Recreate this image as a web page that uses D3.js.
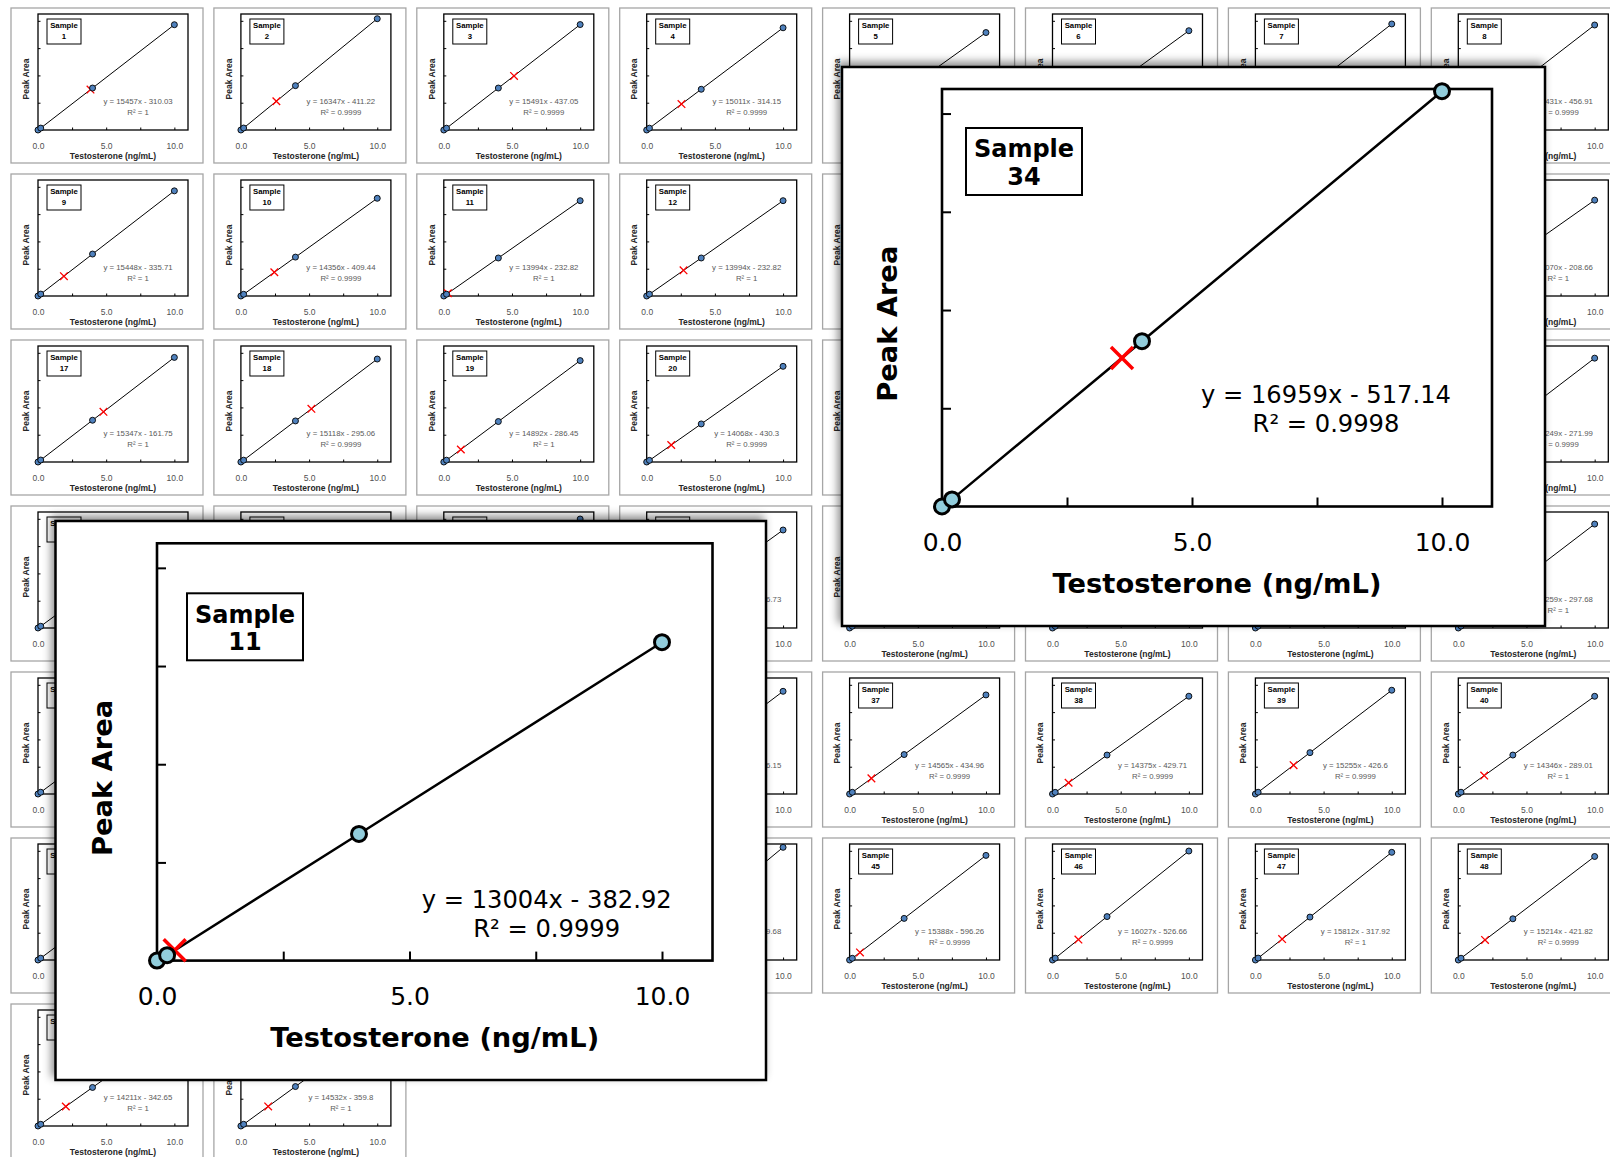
<!DOCTYPE html>
<html><head><meta charset="utf-8">
<script src="https://cdn.jsdelivr.net/npm/d3@7/dist/d3.min.js"></script>
<style>body{margin:0;background:#fff}svg{display:block}</style>
</head><body>
<svg id="c" width="1610" height="1157"></svg>
<script>
// ---------------- DATA ----------------
const concentrations = [0, 0.2, 4, 10];
const xTickValues = [0, 2.5, 5, 7.5, 10];
const xLabelValues = [0, 5, 10];
const yTickValues = [40000, 80000, 120000, 160000];
const xDomain = [0, 11];
const yDomain = [0, 170000];
const xTitle = "Testosterone (ng/mL)";
const yTitle = "Peak Area";

const sampleIds = [1,2,3,4,5,6,7,8,9,10,11,12,13,14,15,16,17,18,19,20,21,22,23,24,25,
  26,27,28,29,30,31,32,33,34,35,36,37,38,39,40,41,42,43,44,45,46,47,48,49,50];
const areaAt0 = [0,0,0,0,0,0,0,0,0,0,0,0,0,0,0,0,0,0,0,0,0,0,0,0,0,
  0,0,0,0,0,0,0,0,0,0,0,0,0,0,0,0,0,0,0,0,0,0,0,0,0];
const areaAt02 = [2800,2900,2700,2700,2600,2600,2800,2600, 2800,2500,2600,2600,2700,2600,2700,2600,
  2900,2700,2700,2400,2700,2800,2600,2800, 2600,2600,2800,2500,2700,2600,2700,2800,
  2600,2900,2700,2700,2500,2400,2600,2600, 2700,2700,2600,2900,2500,2700,2800,2600, 2500,2500];
const areaAt4 = [61500,65000,61500,59700,56900,58000,62000,61300, 61500,57000,55700,55700,60200,59100,60900,56100,
  61200,60200,59300,55800,59500,60600,58800,60700, 58200,59900,63600,57200,60300,58500,61100,60700,
  58900,67300,60300,60000,57800,57100,60600,57100, 59400,60800,58300,65800,61000,63600,62900,60400, 56500,57800];
const areaAt10 = [154300,163100,154500,149800,142800,145500,155400,153900, 154100,143200,139700,139700,150900,148300,152900,140500,
  153300,150900,148600,140200,149200,151800,147500,152200, 145900,150200,159700,143600,151100,146900,153400,152300,
  147800,169100,151300,150500,145200,143300,152100,143200, 149000,152500,146300,165100,153300,159700,157800,151700, 141800,145000];
const spikeConc = [3.85,2.6,5.15,2.55,2.1,1.8,2.2,2.0, 1.9,2.45,0.3,2.7,2.0,2.3,1.7,2.1,
  4.8,5.17,1.25,1.8,2.0,2.4,1.9,2.2, 2.0,2.1,2.0,2.0,2.0,1.8,2.2,2.0,
  2.0,3.6,2.1,2.0,1.6,1.18,2.8,1.9, 1.9,2.0,2.2,2.0,0.76,1.9,1.96,1.96, 2.04,2.0];
const spikeArea = [59200,42100,79300,38000,29800,25900,34000,30400, 29000,34800,4000,37600,29900,33800,25700,29300,
  73500,77900,18300,24900,29600,36200,27700,33300, 28900,31300,31600,28400,30000,26200,33500,30200,
  29300,60500,31500,29800,22900,16500,42300,27000, 28100,30200,31900,32700,11100,29900,30700,29400, 28600,28700];
const slopes = [15457,16347,15491,15011,14310,14580,15570,15431, 15448,14356,13994,13994,15120,14870,15330,14070,
  15347,15118,14892,14068,14950,15210,14780,15249, 14620,15060,16010,14390,15140,14720,15380,15259,
  14810,16959,15170,15080,14565,14375,15255,14346, 14930,15290,14660,16550,15388,16027,15812,15214, 14211,14532];
const intercepts = [-310.03,-411.22,-437.05,-314.15,-301.45,-325.4,-298.2,-456.91,
  -335.71,-409.44,-232.82,-232.82,-310.5,-356.2,-402.1,-208.66,
  -161.75,-295.06,-286.45,-430.3,-330.8,-287.3,-341.6,-271.99,
  -318.4,-365.2,-412.5,-336.73,-298.6,-344.9,-376.3,-297.68,
  -322.1,-517.14,-359.4,-346.15,-434.96,-429.71,-426.6,-289.01,
  -305.7,-384.2,-329.5,-409.68,-596.26,-526.66,-317.92,-421.82, -342.65,-359.8];
const rSquared = [1,0.9999,0.9999,0.9999,0.9999,1,1,0.9999, 1,0.9999,1,1,1,0.9999,0.9999,1,
  1,0.9999,1,0.9999,0.9999,1,0.9999,0.9999, 1,0.9999,0.9999,0.9999,1,0.9999,0.9999,1,
  1,0.9998,0.9999,0.9999,0.9999,0.9999,0.9999,1, 1,0.9999,0.9999,0.9999,0.9999,0.9999,1,0.9999, 1,1];

// enlarged panels
const zoomSamples = [11, 34];
const zoomAreaAt0 = [0, 0];
const zoomAreaAt02 = [2200, 2900];
const zoomAreaAt4 = [51600, 67300];
const zoomAreaAt10 = [129700, 169100];
const zoomSpikeConc = [0.35, 3.6];
const zoomSpikeArea = [4200, 60500];
const zoomSlopes = [13004, 16959];
const zoomIntercepts = [-382.92, -517.14];
const zoomR2 = [0.9999, 0.9998];

// ---------------- LAYOUT / STYLE ----------------
const svg = d3.select('#c');
const defs = svg.append('defs');
const f = defs.append('filter').attr('id','sh').attr('x','-10%').attr('y','-10%').attr('width','120%').attr('height','120%');
f.append('feDropShadow').attr('dx',-3).attr('dy',-4).attr('stdDeviation',4)
  .attr('flood-color','#000').attr('flood-opacity',0.45);

const SMALL = {
  font: "'Liberation Sans', Arial, sans-serif",
  outerStroke: '#a6a6a6', outerSW: 1.3, shadow: false,
  plotSW: 1.3, tickLen: 2.5, tickSW: 1,
  tickFont: 8.5, tickColor: '#505050', tickWeight: 'normal', tickBase: 19,
  titleFont: 8.5, titleColor: '#262626', titleBase: 29,
  yTitleX: -9.3, yTitleDy: 7,
  boxW: 34, boxH: 25, boxSW: 1, boxFont: 7.8, boxLine1: 8.9, boxLine2: 20.2,
  eqFont: 7.8, eqColor: '#595959', eqGap: 11,
  r: 3, markerFill: '#4f81bd', markerSW: 0.9,
  xHalf: 3.8, xSW: 1.3, lineSW: 1
};
const BIG = {
  font: "'DejaVu Sans', Verdana, sans-serif",
  outerStroke: '#000', outerSW: 2.5, shadow: true,
  plotSW: 2.6, tickLen: 9, tickSW: 2,
  tickFont: 25, tickColor: '#000', tickWeight: 'normal', tickBase: 44.5,
  titleFont: 27.3, titleColor: '#000', titleBase: 86,
  yTitleX: -45, yTitleDy: 26,
  boxW: 116, boxH: 67, boxSW: 2, boxFont: 24, boxLine1: 29.3, boxLine2: 56.8,
  eqFont: 24.2, eqColor: '#000', eqGap: 28.5,
  r: 7.5, markerFill: '#92cddc', markerSW: 3,
  xHalf: 11, xSW: 3.5, lineSW: 2.5
};

const colX0 = 11, colStep = 202.9, rowY0 = 8, rowStep = 166;
function smallLayout(i) {
  const col = i % 8, row = Math.floor(i / 8);
  return {x: colX0 + col*colStep, y: rowY0 + row*rowStep, w: 192, h: 155,
    plotL: 27, plotT: 6, plotW: 150, plotH: 116, boxX: 9, boxY: 5, eqX: 100, eqY: 89.5};
}
const zoomLayout = [
  {x: 55.5, y: 521, w: 710.5, h: 559, plotL: 101.5, plotT: 22.3, plotW: 555.5, plotH: 417.3,
   boxX: 30, boxY: 50, eqX: 389.7, eqY: 364.7},
  {x: 842, y: 67, w: 703, h: 559, plotL: 100, plotT: 22, plotW: 550, plotH: 417.5,
   boxX: 24, boxY: 39, eqX: 384, eqY: 314}
];

function drawPanel(d, st, L) {
  const g = svg.append('g').attr('transform', `translate(${L.x},${L.y})`);
  g.append('rect').attr('width', L.w).attr('height', L.h).attr('fill', '#fff')
    .attr('stroke', st.outerStroke).attr('stroke-width', st.outerSW)
    .attr('filter', st.shadow ? 'url(#sh)' : null);

  const x = d3.scaleLinear().domain(xDomain).range([0, L.plotW]);
  const y = d3.scaleLinear().domain(yDomain).range([L.plotH, 0]);
  const p = g.append('g').attr('transform', `translate(${L.plotL},${L.plotT})`);

  const xt = p.append('g').attr('transform', `translate(0,${L.plotH})`)
    .call(d3.axisBottom(x).tickValues(xTickValues).tickSize(-st.tickLen).tickFormat(''));
  const yt = p.append('g')
    .call(d3.axisLeft(y).tickValues(yTickValues).tickSize(-st.tickLen).tickFormat(''));
  [xt, yt].forEach(a => {
    a.select('.domain').remove();
    a.selectAll('text').remove();
    a.selectAll('line').attr('stroke', '#000').attr('stroke-width', st.tickSW);
  });
  const xl = p.append('g').attr('transform', `translate(0,${L.plotH})`)
    .call(d3.axisBottom(x).tickValues(xLabelValues).tickSize(0).tickFormat(d3.format('.1f')));
  xl.select('.domain').remove();
  xl.selectAll('text').attr('y', st.tickBase).attr('dy', null)
    .attr('font-family', st.font).attr('font-size', st.tickFont)
    .attr('fill', st.tickColor).attr('font-weight', st.tickWeight);

  p.append('rect').attr('width', L.plotW).attr('height', L.plotH)
    .attr('fill', 'none').attr('stroke', '#000').attr('stroke-width', st.plotSW);

  g.append('text').attr('x', L.plotL + L.plotW/2).attr('y', L.plotT + L.plotH + st.titleBase)
    .attr('text-anchor', 'middle').attr('font-family', st.font).attr('font-weight', 'bold')
    .attr('font-size', st.titleFont).attr('fill', st.titleColor).text(xTitle);
  g.append('text')
    .attr('transform', `translate(${L.plotL + st.yTitleX},${L.plotT + L.plotH/2 + st.yTitleDy}) rotate(-90)`)
    .attr('text-anchor', 'middle').attr('font-family', st.font).attr('font-weight', 'bold')
    .attr('font-size', st.titleFont).attr('fill', st.titleColor).text(yTitle);

  const bx = L.plotL + L.boxX, by = L.plotT + L.boxY;
  g.append('rect').attr('x', bx).attr('y', by).attr('width', st.boxW).attr('height', st.boxH)
    .attr('fill', '#fff').attr('stroke', '#000').attr('stroke-width', st.boxSW);
  const bt = g.append('text').attr('text-anchor', 'middle').attr('font-family', st.font)
    .attr('font-weight', 'bold').attr('font-size', st.boxFont).attr('fill', '#000');
  bt.append('tspan').attr('x', bx + st.boxW/2).attr('y', by + st.boxLine1).text('Sample');
  bt.append('tspan').attr('x', bx + st.boxW/2).attr('y', by + st.boxLine2).text(d.id);

  const eq = g.append('text').attr('text-anchor', 'middle').attr('font-family', st.font)
    .attr('font-size', st.eqFont).attr('fill', st.eqColor);
  eq.append('tspan').attr('x', L.plotL + L.eqX).attr('y', L.plotT + L.eqY)
    .text(`y = ${d.slope}x - ${Math.abs(d.intercept)}`);
  eq.append('tspan').attr('x', L.plotL + L.eqX).attr('y', L.plotT + L.eqY + st.eqGap)
    .text(`R\u00B2 = ${d.r2}`);

  p.append('path').datum(d.pts).attr('fill', 'none').attr('stroke', '#000')
    .attr('stroke-width', st.lineSW)
    .attr('d', d3.line().x(v => x(v[0])).y(v => y(v[1])));
  const cx = x(d.spike[0]), cy = y(d.spike[1]), h = st.xHalf;
  p.append('path').attr('d', `M${cx-h},${cy-h}L${cx+h},${cy+h}M${cx-h},${cy+h}L${cx+h},${cy-h}`)
    .attr('stroke', '#ff0000').attr('stroke-width', st.xSW).attr('fill', 'none');
  p.selectAll('circle.pt').data(d.pts).join('circle').attr('class', 'pt')
    .attr('cx', v => x(v[0])).attr('cy', v => y(v[1])).attr('r', st.r)
    .attr('fill', st.markerFill).attr('stroke', '#000').attr('stroke-width', st.markerSW);
  return g;
}

const smallGroups = sampleIds.map((id, i) => {
  const levels = [areaAt0[i], areaAt02[i], areaAt4[i], areaAt10[i]];
  return drawPanel({
    id, pts: concentrations.map((c, k) => [c, levels[k]]),
    spike: [spikeConc[i], spikeArea[i]],
    slope: slopes[i], intercept: intercepts[i], r2: rSquared[i]
  }, SMALL, smallLayout(i));
});

// small-panel texts completely hidden under an enlarged panel are not drawn
const covers = zoomLayout.map(L => ({x0: L.x - 2, y0: L.y - 2, x1: L.x + L.w + 2, y1: L.y + L.h + 2}));
smallGroups.forEach(g => {
  g.selectAll('text').each(function() {
    const b = this.getBoundingClientRect();
    const hidden = covers.some(c => b.left >= c.x0 && b.right <= c.x1 && b.top >= c.y0 && b.bottom <= c.y1);
    if (hidden) d3.select(this).remove();
  });
});

zoomSamples.forEach((id, i) => {
  const levels = [zoomAreaAt0[i], zoomAreaAt02[i], zoomAreaAt4[i], zoomAreaAt10[i]];
  drawPanel({
    id, pts: concentrations.map((c, k) => [c, levels[k]]),
    spike: [zoomSpikeConc[i], zoomSpikeArea[i]],
    slope: zoomSlopes[i], intercept: zoomIntercepts[i], r2: zoomR2[i]
  }, BIG, zoomLayout[i]);
});
</script>
</body></html>
